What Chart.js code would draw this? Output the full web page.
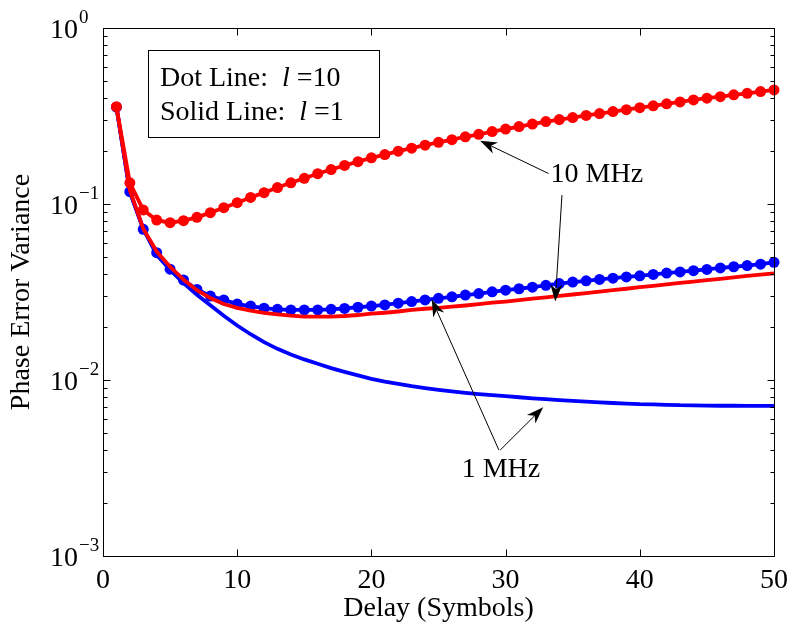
<!DOCTYPE html>
<html>
<head>
<meta charset="utf-8">
<script src="https://cdn.jsdelivr.net/npm/chart.js@4/dist/chart.umd.min.js"></script>
<style>
  html, body { margin: 0; padding: 0; background: #fff; }
  #wrap { width: 792px; height: 627px; }
</style>
</head>
<body>
<div id="wrap"><canvas id="c" width="792" height="627"></canvas></div>
<script>
// delay axis (symbols)
var delays = [];
for (var i = 1; i <= 50; i++) delays.push(i);

// 10 MHz, l = 10 (dotted red)
var red10 = [0.357, 0.132, 0.0925, 0.081, 0.0783, 0.0804, 0.084, 0.0893, 0.0953, 0.1017,
             0.109, 0.116, 0.124, 0.132, 0.140, 0.1486, 0.157, 0.1656, 0.174, 0.183,
             0.191, 0.1995, 0.2075, 0.216, 0.224, 0.232, 0.241, 0.249, 0.258, 0.2667,
             0.2754, 0.2844, 0.2938, 0.302, 0.310, 0.3184, 0.3266, 0.335, 0.3436, 0.3524,
             0.3614, 0.3707, 0.380, 0.390, 0.399, 0.407, 0.417, 0.4256, 0.4355, 0.4446];
// 10 MHz, l = 1 (solid red)
var red1 = [0.357, 0.12, 0.0724, 0.0537, 0.044, 0.0372, 0.0324, 0.0292, 0.027, 0.0257,
            0.0248, 0.0241, 0.0236, 0.0232, 0.0229, 0.0229, 0.0229, 0.0231, 0.0234, 0.0238,
            0.0241, 0.0245, 0.0250, 0.0254, 0.0257, 0.0261, 0.0265, 0.0270, 0.0275, 0.0279,
            0.0284, 0.0290, 0.0295, 0.0301, 0.0306, 0.0312, 0.0318, 0.0324, 0.0330, 0.0337,
            0.0343, 0.0349, 0.0356, 0.0362, 0.0369, 0.0376, 0.0383, 0.0390, 0.0397, 0.0404];
// 1 MHz, l = 10 (dotted blue)
var blue10 = [0.355, 0.1175, 0.0718, 0.0529, 0.0426, 0.037, 0.0327, 0.030, 0.0285, 0.027,
              0.0263, 0.0256, 0.0252, 0.025, 0.025, 0.025, 0.0252, 0.0255, 0.0259, 0.0263,
              0.0267, 0.0273, 0.0279, 0.0285, 0.0291, 0.0297, 0.0304, 0.0310, 0.0317, 0.0324,
              0.0330, 0.0337, 0.0345, 0.0353, 0.0360, 0.0366, 0.0373, 0.0379, 0.0385, 0.0391,
              0.0398, 0.0405, 0.0411, 0.0418, 0.0425, 0.0433, 0.0440, 0.0447, 0.0455, 0.0466];
// 1 MHz, l = 1 (solid blue)
var blue1 = [0.357, 0.1175, 0.0724, 0.0513, 0.0422, 0.0355, 0.0305, 0.0266, 0.0232, 0.0204,
             0.0182, 0.0164, 0.01503, 0.01396, 0.01309, 0.01236, 0.01169, 0.01112, 0.01062, 0.01016,
             0.00979, 0.00951, 0.00923, 0.00900, 0.00879, 0.00861, 0.00845, 0.00832, 0.00820, 0.00809,
             0.00798, 0.00787, 0.00778, 0.00769, 0.00760, 0.00753, 0.00746, 0.00740, 0.00735, 0.00729,
             0.00726, 0.00723, 0.00719, 0.00718, 0.00716, 0.00714, 0.00714, 0.00713, 0.00713, 0.00713];

var xTicks = [0, 10, 20, 30, 40, 50];
var yExps = [0, -1, -2, -3];

var SERIF = '"Liberation Serif", "Times New Roman", serif';

function pts(ys) {
  return delays.map(function(d, i) { return {x: d, y: ys[i]}; });
}

// arrows: [tailX, tailY, headX, headY] in data units
var arrows = [
  [33.2, 0.149, 28.1, 0.229],
  [34.2, 0.1125, 33.7, 0.0279],
  [29.5, 0.0040, 24.5, 0.0287],
  [29.6, 0.0040, 32.8, 0.0070]
];
var notes = [
  {text: '10 MHz', x: 36.8, y: 0.146},
  {text: '1 MHz', x: 29.65, y: 0.00308}
];

function drawArrow(ctx, x1, y1, x2, y2) {
  var ang = Math.atan2(y2 - y1, x2 - x1);
  var len = 17, half = 6, notch = 5;
  var bx = x2 - Math.cos(ang) * len, by = y2 - Math.sin(ang) * len;
  ctx.beginPath();
  ctx.moveTo(x1, y1);
  ctx.lineTo(x2 - Math.cos(ang) * (len - notch), y2 - Math.sin(ang) * (len - notch));
  ctx.stroke();
  ctx.beginPath();
  ctx.moveTo(x2, y2);
  ctx.lineTo(bx - Math.sin(ang) * half, by + Math.cos(ang) * half);
  ctx.lineTo(x2 - Math.cos(ang) * (len - notch), y2 - Math.sin(ang) * (len - notch));
  ctx.lineTo(bx + Math.sin(ang) * half, by - Math.cos(ang) * half);
  ctx.closePath();
  ctx.fill();
}

var framePlugin = {
  id: 'frame',
  afterDraw: function(chart) {
    var ctx = chart.ctx, a = chart.chartArea;
    var xs = chart.scales.x, ys = chart.scales.y;
    var L = Math.round(a.left) + 0.5, R = Math.round(a.right) + 0.5;
    var T = Math.round(a.top) + 0.5, B = Math.round(a.bottom) + 0.5;
    ctx.save();
    ctx.strokeStyle = '#000';
    ctx.fillStyle = '#000';
    ctx.lineWidth = 1;
    ctx.strokeRect(L, T, R - L, B - T);

    // inward ticks on all four sides
    ctx.beginPath();
    xTicks.forEach(function(v) {
      var px = Math.round(xs.getPixelForValue(v)) + 0.5;
      ctx.moveTo(px, B); ctx.lineTo(px, B - 7);
      ctx.moveTo(px, T); ctx.lineTo(px, T + 7);
    });
    yExps.forEach(function(e) {
      var py = Math.round(ys.getPixelForValue(Math.pow(10, e))) + 0.5;
      ctx.moveTo(L, py); ctx.lineTo(L + 7, py);
      ctx.moveTo(R, py); ctx.lineTo(R - 7, py);
      if (e > -3) {
        for (var k = 2; k <= 9; k++) {
          var pm = Math.round(ys.getPixelForValue(k * Math.pow(10, e - 1))) + 0.5;
          ctx.moveTo(L, pm); ctx.lineTo(L + 4, pm);
          ctx.moveTo(R, pm); ctx.lineTo(R - 4, pm);
        }
      }
    });
    ctx.stroke();

    // y tick labels 10^e
    yExps.forEach(function(e) {
      var py = ys.getPixelForValue(Math.pow(10, e));
      ctx.font = '28px ' + SERIF;
      ctx.textAlign = 'right';
      ctx.textBaseline = 'alphabetic';
      ctx.fillText('10', 78, py + 10);
      ctx.font = '19px ' + SERIF;
      ctx.textAlign = 'left';
      ctx.fillText(e === 0 ? '0' : '\u2212' + (-e), 79, py - 5);
    });

    // note box
    var bx1 = xs.getPixelForValue(3.35), bx2 = xs.getPixelForValue(20.55);
    var by1 = ys.getPixelForValue(0.75), by2 = ys.getPixelForValue(0.24);
    ctx.fillStyle = '#fff';
    ctx.fillRect(bx1, by1, bx2 - bx1, by2 - by1);
    ctx.strokeRect(Math.round(bx1) + 0.5, Math.round(by1) + 0.5, Math.round(bx2 - bx1), Math.round(by2 - by1));
    ctx.fillStyle = '#000';
    ctx.textAlign = 'left';
    ctx.textBaseline = 'alphabetic';
    var lines = [['Dot Line:  ', '=10'], ['Solid Line:  ', '=1']];
    lines.forEach(function(ln, i) {
      var tx = bx1 + 12, ty = by1 + 36 + i * 34;
      ctx.font = '28px ' + SERIF;
      ctx.fillText(ln[0], tx, ty);
      tx += ctx.measureText(ln[0]).width;
      ctx.font = 'italic 28px ' + SERIF;
      ctx.fillText('l', tx, ty);
      tx += ctx.measureText('l ').width;
      ctx.font = '28px ' + SERIF;
      ctx.fillText(ln[1], tx, ty);
    });

    // arrows and labels
    ctx.lineWidth = 1;
    arrows.forEach(function(ar) {
      drawArrow(ctx, xs.getPixelForValue(ar[0]), ys.getPixelForValue(ar[1]),
                xs.getPixelForValue(ar[2]), ys.getPixelForValue(ar[3]));
    });
    ctx.font = '28px ' + SERIF;
    ctx.textAlign = 'center';
    ctx.textBaseline = 'middle';
    notes.forEach(function(n) {
      ctx.fillText(n.text, xs.getPixelForValue(n.x), ys.getPixelForValue(n.y));
    });
    ctx.restore();
  }
};

Chart.defaults.color = '#000';
Chart.defaults.font.family = SERIF;

new Chart(document.getElementById('c'), {
  type: 'line',
  data: {
    datasets: [
      { label: '10 MHz, l=1', data: pts(red1), borderColor: '#ff0000', borderWidth: 3.8,
        pointRadius: 0, fill: false, clip: false },
      { label: '10 MHz, l=10', data: pts(red10), borderColor: '#ff0000', backgroundColor: '#ff0000',
        borderWidth: 3.8, pointRadius: 5.5, pointBorderWidth: 0, fill: false, clip: false },
      { label: '1 MHz, l=10', data: pts(blue10), borderColor: '#0000ff', backgroundColor: '#0000ff',
        borderWidth: 3.8, pointRadius: 5.5, pointBorderWidth: 0, fill: false, clip: false },
      { label: '1 MHz, l=1', data: pts(blue1), borderColor: '#0000ff', borderWidth: 3.8,
        pointRadius: 0, fill: false, clip: false }
    ]
  },
  options: {
    responsive: false,
    animation: false,
    devicePixelRatio: 1,
    layout: { padding: { left: 0, top: 28, right: 18, bottom: 0 } },
    plugins: { legend: { display: false }, tooltip: { enabled: false } },
    elements: { line: { tension: 0 } },
    scales: {
      x: {
        type: 'linear', min: 0, max: 50,
        grid: { display: false, drawTicks: false },
        border: { display: false },
        ticks: { stepSize: 10, padding: 8, font: { size: 28 }, maxRotation: 0 },
        title: { display: true, text: 'Delay (Symbols)', font: { size: 28 }, padding: { top: 0, bottom: 2 } },
        afterFit: function(s) { s.height = 71; s.paddingLeft = 0; s.paddingRight = 0; }
      },
      y: {
        type: 'logarithmic', min: 0.001, max: 1,
        grid: { display: false, drawTicks: false },
        border: { display: false },
        ticks: { display: false },
        title: { display: true, text: 'Phase Error Variance', font: { size: 28 }, padding: { top: 5, bottom: 0 } },
        afterFit: function(s) { s.width = 103; s.paddingTop = 0; s.paddingBottom = 0; }
      }
    }
  },
  plugins: [framePlugin]
});
</script>
</body>
</html>
